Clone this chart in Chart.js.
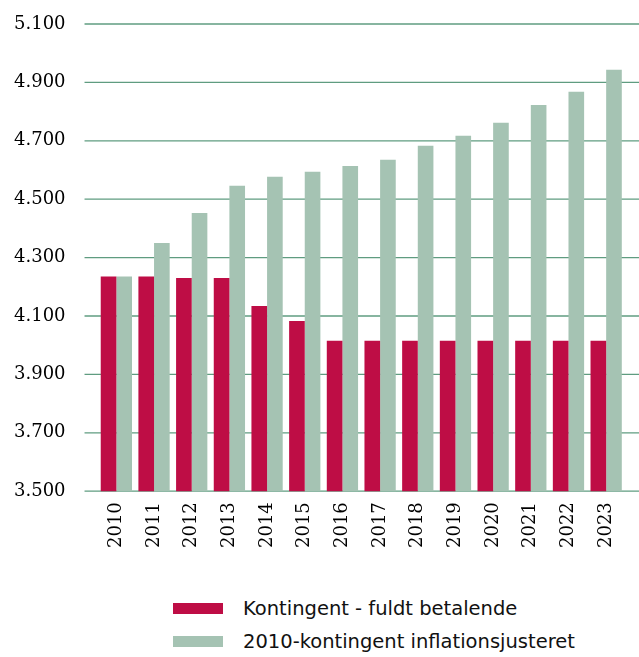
<!DOCTYPE html>
<html>
<head>
<meta charset="utf-8">
<script src="https://cdn.jsdelivr.net/npm/chart.js@4.4.0/dist/chart.umd.min.js"></script>
<style>
  body { margin: 0; background: #fff; }
  #wrap { position: relative; width: 639px; height: 657px; }
  #box { position: absolute; left: 0; top: 0; width: 639px; height: 548px; }
  #legend { position: absolute; left: 173px; top: 592px; font-family: "DejaVu Sans", sans-serif; font-size: 19.5px; color: #111; }
  .row { display: flex; align-items: center; height: 33px; }
  .sw { width: 50px; height: 11px; margin-right: 20px; }
</style>
</head>
<body>
<div id="wrap">
  <div id="box"><canvas id="myChart"></canvas></div>
  <div id="legend"></div>
</div>
<script>
var years = ["2010", "2011", "2012", "2013", "2014", "2015", "2016", "2017", "2018", "2019", "2020", "2021", "2022", "2023"];

var fuldtBetalende = [4235, 4235, 4230, 4230, 4134, 4083, 4015, 4015, 4015, 4015, 4015, 4015, 4015, 4015];
var inflationsjusteret = [4235, 4350, 4453, 4546, 4577, 4594, 4614, 4635, 4683, 4717, 4762, 4823, 4868, 4943];

var seriesNames = ["Kontingent - fuldt betalende", "2010-kontingent inflationsjusteret"];
var colors = ["#be0d45", "#a5c3b3"];

var yMin = 3500;
var yMax = 5100;
var yStep = 200;

// danish thousands separator
formatTick = (v) => String(v).replace(/\B(?=(\d{3})+(?!\d))/g, ".");

// horizontal lines run a bit past the plot on both sides
var gridLines = {
    id: "gridLines",
    beforeDatasetsDraw: (chart) => {
        let ctx = chart.ctx;
        let y = chart.scales.y;
        ctx.save();
        ctx.strokeStyle = "#5f9c80";
        ctx.lineWidth = 1.3;
        y.ticks.forEach(t => {
            let py = y.getPixelForValue(t.value);
            ctx.beginPath();
            ctx.moveTo(chart.chartArea.left - 13, py);
            ctx.lineTo(chart.width, py);
            ctx.stroke();
        });
        ctx.restore();
    }
};

createChart = () => {
    chart = new Chart(document.getElementById("myChart"), {
        type: "bar",
        data: {
            labels: years,
            datasets: [
                {
                    label: seriesNames[0],
                    data: fuldtBetalende,
                    backgroundColor: colors[0]
                },
                {
                    label: seriesNames[1],
                    data: inflationsjusteret,
                    backgroundColor: colors[1]
                }
            ]
        },
        options: {
            responsive: true,
            maintainAspectRatio: false,
            animation: false,
            layout: { padding: { left: 14, right: 14, top: 24, bottom: 0 } },
            datasets: {
                bar: { categoryPercentage: 0.83, barPercentage: 1.0 }
            },
            plugins: {
                legend: { display: false },
                tooltip: { enabled: false }
            },
            scales: {
                x: {
                    // tickLength used as the gap under the axis (padding would also pad the sides)
                    grid: { display: false, drawTicks: true, tickLength: 11 },
                    border: { display: false },
                    ticks: {
                        minRotation: 90,
                        maxRotation: 90,
                        padding: 0,
                        color: "#000",
                        font: { family: "DejaVu Serif", size: 18 }
                    }
                },
                y: {
                    min: yMin,
                    max: yMax,
                    grid: { display: false, drawTicks: true, tickLength: 32 },
                    border: { display: false },
                    ticks: {
                        stepSize: yStep,
                        padding: 0,
                        color: "#000",
                        font: { family: "DejaVu Serif", size: 18 },
                        callback: (v) => formatTick(v)
                    }
                }
            }
        },
        plugins: [gridLines]
    });
}

createChart();

// legend below the chart, stacked and left aligned
var legend = document.getElementById("legend");
seriesNames.forEach((name, i) => {
    let row = document.createElement("div");
    row.className = "row";
    let sw = document.createElement("span");
    sw.className = "sw";
    sw.style.background = colors[i];
    let txt = document.createElement("span");
    txt.textContent = name;
    row.appendChild(sw);
    row.appendChild(txt);
    legend.appendChild(row);
});
</script>
</body>
</html>
